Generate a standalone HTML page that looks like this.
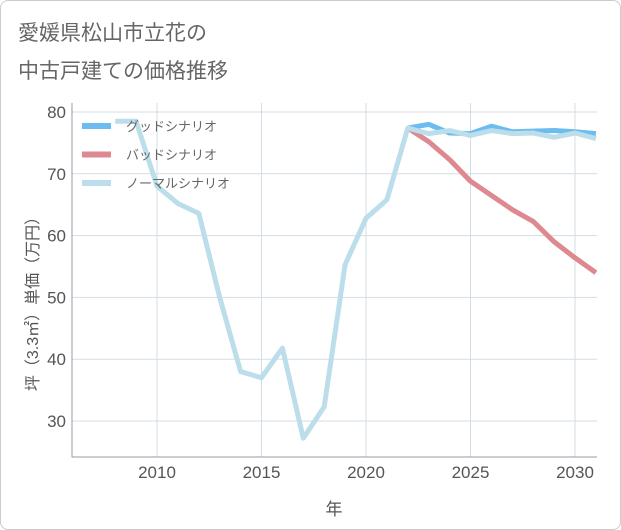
<!DOCTYPE html>
<html><head><meta charset="utf-8"><style>
body{margin:0;background:#fff;font-family:"Liberation Sans","Noto Sans CJK JP",sans-serif;}
#wrap{position:relative;width:619px;height:528px;border:1px solid #ccc;border-radius:8px;background:#fff;}
.t{position:absolute;left:17px;color:#666;font-size:21px;}
</style></head><body>
<div id="wrap">
<div class="t" style="top:16px">愛媛県松山市立花の</div>
<div class="t" style="top:54px">中古戸建ての価格推移</div>
<svg id="c" width="621" height="530" style="position:absolute;left:-1px;top:-1px"></svg>
</div>
<script>
const years=[2008,2009,2010,2011,2012,2013,2014,2015,2016,2017,2018,2019,2020,2021,2022,2023,2024,2025,2026,2027,2028,2029,2030,2031];
const normal=[78.5,78.5,68,65.2,63.6,50,38,37,41.8,27.2,32.3,55.3,62.8,65.8,77.4,76.5,77,76.2,77,76.5,76.6,75.9,76.6,75.7];
const goodYears=[2022,2023,2024,2025,2026,2027,2028,2029,2030,2031];
const good=[77.4,78.0,76.6,76.5,77.7,76.8,76.9,77.0,76.8,76.5];
const bad=[77.4,75.2,72.3,68.8,66.5,64.2,62.3,59.0,56.4,54.0];
const yTicks=[30,40,50,60,70,80];
const xTicks=[2010,2015,2020,2025,2030];
const NS="http://www.w3.org/2000/svg",svg=document.getElementById('c');
const L=72,R=597,T=103,B=457;
const X=y=>157+(y-2010)*20.9, Y=v=>112+(80-v)*6.18;
function mk(t,a,p){const e=document.createElementNS(NS,t);for(const k in a)e.setAttribute(k,a[k]);(p||svg).appendChild(e);return e;}
const cp=mk('clipPath',{id:'cp'});mk('rect',{x:L,y:T,width:R-L,height:B-T},cp);
yTicks.forEach(v=>{const g=mk('line',{x1:L,x2:R,y1:Y(v),y2:Y(v),stroke:'#d3dde6'});


const t=mk('text',{x:L-6,y:Y(v)+6,'text-anchor':'end','font-size':17,fill:'#555'});t.textContent=v;

});
xTicks.forEach(v=>{const g=mk('line',{x1:X(v),x2:X(v),y1:T,y2:B,stroke:'#d3dde6'});


const t=mk('text',{x:X(v),y:B+21,'text-anchor':'middle','font-size':17,fill:'#555'});t.textContent=v;

});
const ax=mk('path',{d:`M${L} ${T}V${B}H${R}`,fill:'none',stroke:'#99a',
'stroke-width':1});


function line(xs,vs,col,name){const p=mk('polyline',{points:xs.map((x,i)=>X(x)+','+Y(vs[i])).join(' '),fill:'none',stroke:col,'stroke-width':5,'stroke-linejoin':'round','clip-path':'url(#cp)'});

}
line(goodYears,good,'#6cbcf0','good-scenario-line');
line(goodYears,bad,'#de8890','bad-scenario-line');
line(years,normal,'#bcdeeb','normal-scenario-line');
const leg=[['グッドシナリオ','#6cbcf0'],['バッドシナリオ','#de8890'],['ノーマルシナリオ','#bcdeeb']];
leg.forEach((d,i)=>{const y=126+i*28.5;
const s=mk('line',{x1:82,x2:111,y1:y,y2:y,stroke:d[1],'stroke-width':6});


const t=mk('text',{x:126,y:y+5,'font-size':13,fill:'#666'});t.textContent=d[0];

});
const xt=mk('text',{x:334,y:515,'text-anchor':'middle','font-size':17,fill:'#555'});xt.textContent='年';


const yt=mk('text',{x:0,y:0,'text-anchor':'middle','font-size':16,fill:'#555',transform:'translate(38,300) rotate(-90)'});yt.textContent='坪（3.3㎡）単価（万円）';


</script>
</body></html>
